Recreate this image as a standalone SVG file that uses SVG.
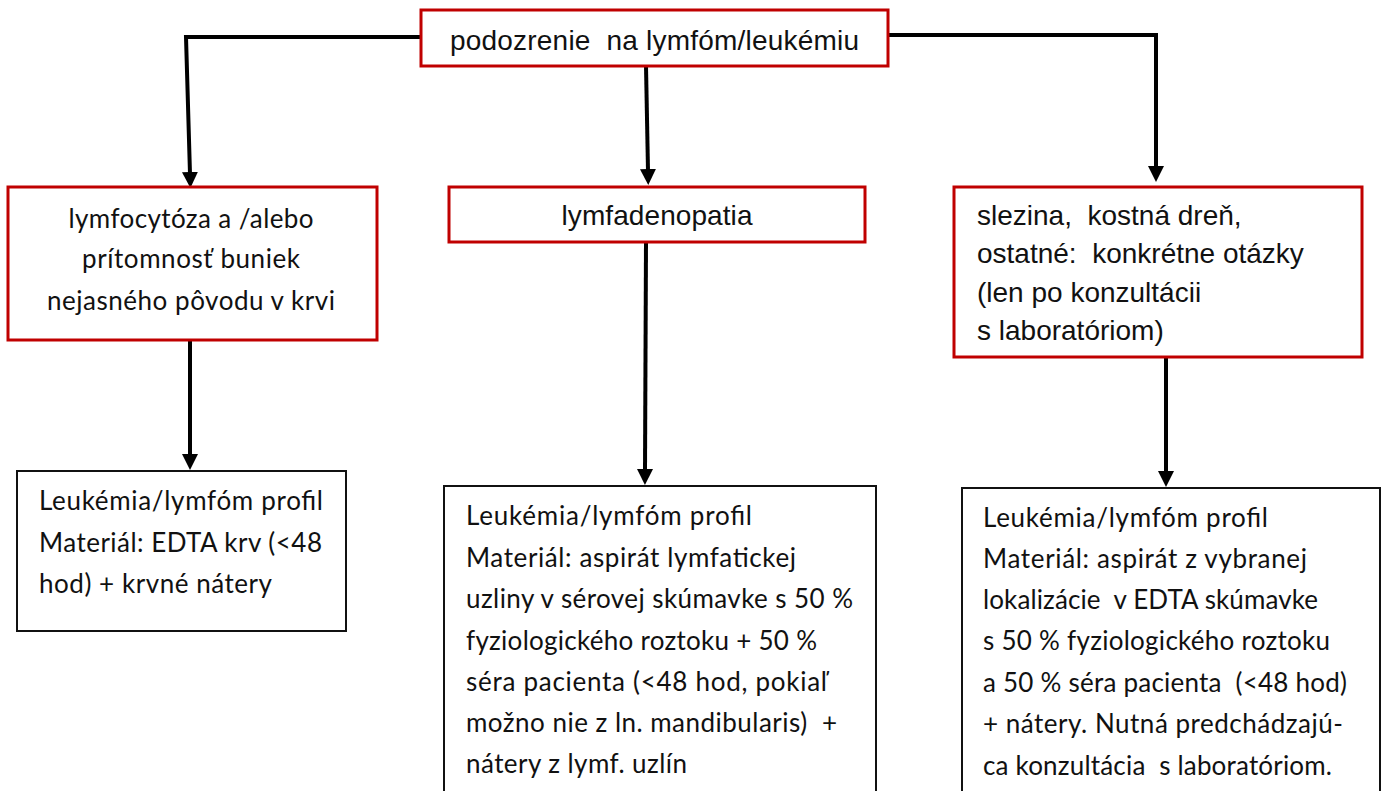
<svg xmlns="http://www.w3.org/2000/svg" width="1386" height="791" viewBox="0 0 1386 791">
<style>
text{white-space:pre}
.red{fill:#fff;stroke:#c00000;stroke-width:3}
.blk{fill:#fff;stroke:#111;stroke-width:2}
.ar{font-family:"Liberation Sans",Arial,sans-serif;font-size:28px;fill:#111}
.ca{font-family:Lato,"Open Sans",sans-serif;font-size:26px;fill:#111}
.con{fill:none;stroke:#000;stroke-width:4}
</style>
<defs>
<marker id="ah" markerUnits="userSpaceOnUse" markerWidth="16" markerHeight="16" refX="2" refY="8" orient="auto" viewBox="0 0 16 16">
<path d="M0,0 L16,8 L0,16 Z" fill="#000"/>
</marker>
</defs>
<rect width="1386" height="791" fill="#fff"/>
<g id="connectors">
<path class="con" d="M421,37 H186 L190,174" marker-end="url(#ah)"/>
<path class="con" d="M646,66 L648,171" marker-end="url(#ah)"/>
<path class="con" d="M888,35 H1156 V168" marker-end="url(#ah)"/>
<path class="con" d="M190,340 V456" marker-end="url(#ah)"/>
<path class="con" d="M646,242 L645,471" marker-end="url(#ah)"/>
<path class="con" d="M1166,358 V473" marker-end="url(#ah)"/>
</g>
<g id="top">
<rect class="red" x="421" y="10" width="467" height="56"/>
<text class="ar" x="450" y="50" textLength="409" xml:space="preserve">podozrenie  na lymfóm/leukémiu</text>
</g>
<g id="left-red">
<rect class="red" x="8" y="187" width="369" height="153"/>
<text class="ca" x="191" y="228" text-anchor="middle" textLength="245">lymfocytóza a /alebo</text>
<text class="ca" x="191" y="268" text-anchor="middle" textLength="218">prítomnosť buniek</text>
<text class="ca" x="191" y="310" text-anchor="middle" textLength="288">nejasného pôvodu v krvi</text>
</g>
<g id="mid-red">
<rect class="red" x="449" y="187" width="416" height="55"/>
<text class="ar" x="657" y="225" text-anchor="middle" textLength="191">lymfadenopatia</text>
</g>
<g id="right-red">
<rect class="red" x="954" y="187" width="408" height="170"/>
<text class="ar" x="977" y="225" xml:space="preserve">slezina,  kostná dreň,</text>
<text class="ar" x="977" y="263" xml:space="preserve">ostatné:  konkrétne otázky</text>
<text class="ar" x="977" y="302">(len po konzultácii</text>
<text class="ar" x="977" y="340">s laboratóriom)</text>
</g>
<g id="left-profile">
<rect class="blk" x="17" y="471" width="329" height="160"/>
<text class="ca" x="39" y="510" textLength="284">Leukémia/lymfóm profil</text>
<text class="ca" x="39" y="552" textLength="283">Materiál: EDTA krv (&lt;48</text>
<text class="ca" x="39" y="593" textLength="233">hod) + krvné nátery</text>
</g>
<g id="mid-profile">
<rect class="blk" x="444" y="486" width="432" height="330"/>
<text class="ca" x="466" y="525" textLength="286">Leukémia/lymfóm profil</text>
<text class="ca" x="466" y="567" textLength="330">Materiál: aspirát lymfatickej</text>
<text class="ca" x="466" y="608" textLength="387">uzliny v sérovej skúmavke s 50 %</text>
<text class="ca" x="466" y="650" textLength="351">fyziologického roztoku + 50 %</text>
<text class="ca" x="466" y="691" textLength="361">séra pacienta (&lt;48 hod, pokiaľ</text>
<text class="ca" x="466" y="732" textLength="371" xml:space="preserve">možno nie z ln. mandibularis)  +</text>
<text class="ca" x="466" y="773" textLength="221">nátery z lymf. uzlín</text>
</g>
<g id="right-profile">
<rect class="blk" x="962" y="488" width="418" height="330"/>
<text class="ca" x="983" y="527" textLength="285">Leukémia/lymfóm profil</text>
<text class="ca" x="983" y="568" textLength="324">Materiál: aspirát z vybranej</text>
<text class="ca" x="983" y="609" textLength="335" xml:space="preserve">lokalizácie  v EDTA skúmavke</text>
<text class="ca" x="983" y="650" textLength="347">s 50 % fyziologického roztoku</text>
<text class="ca" x="983" y="692" textLength="364" xml:space="preserve">a 50 % séra pacienta  (&lt;48 hod)</text>
<text class="ca" x="983" y="733" textLength="360">+ nátery. Nutná predchádzajú-</text>
<text class="ca" x="983" y="775" textLength="349" xml:space="preserve">ca konzultácia  s laboratóriom.</text>
</g>
</svg>
